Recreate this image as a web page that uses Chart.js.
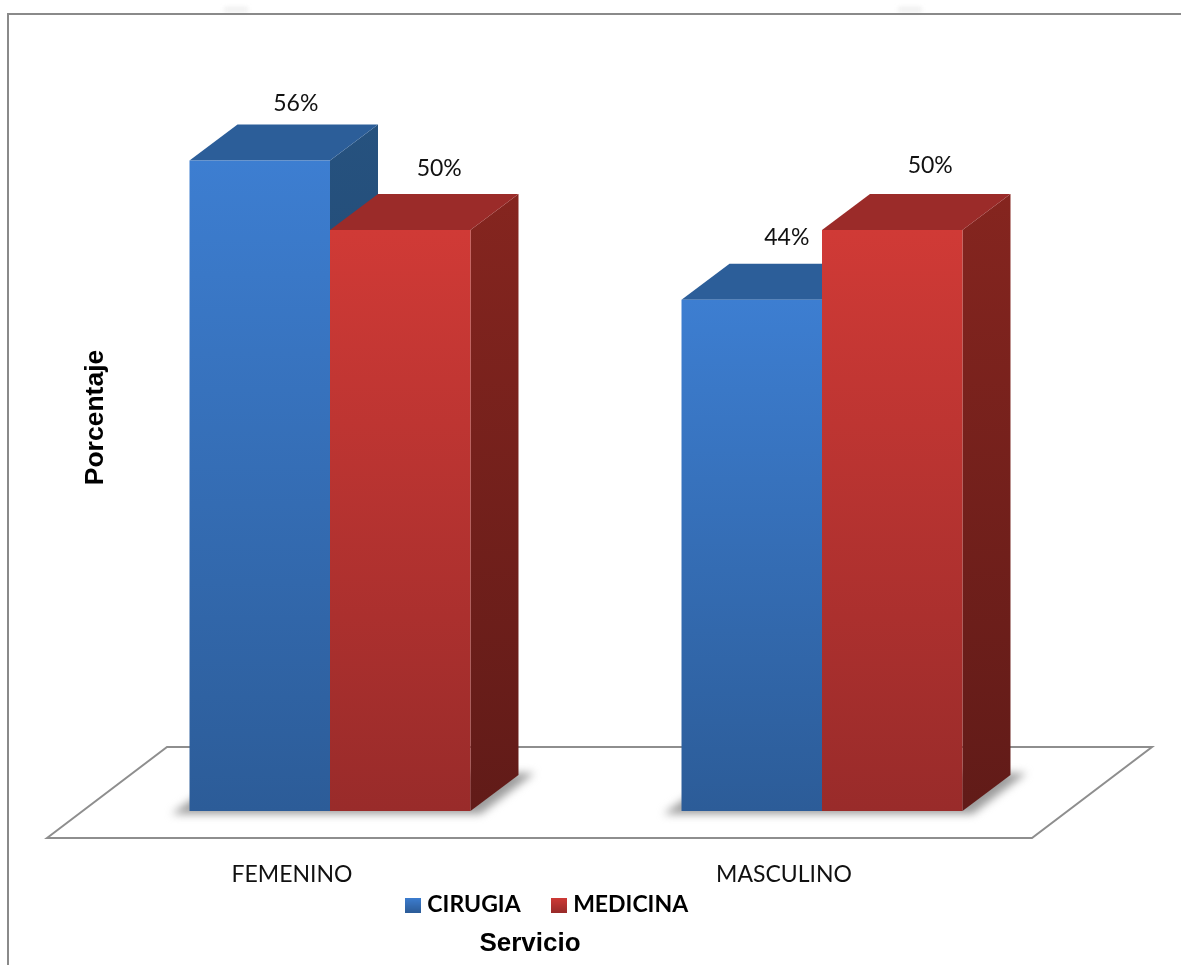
<!DOCTYPE html>
<html><head><meta charset="utf-8">
<style>
html,body{margin:0;padding:0;background:#fff;width:1181px;height:965px;overflow:hidden}
#wrap{position:relative;width:1181px;height:965px}
#frameV{position:absolute;left:7px;top:13px;width:2px;height:952px;background:#8a8a8a}
#frameH{position:absolute;left:7px;top:13px;width:1174px;height:1.5px;background:#8a8a8a}
.smudge{position:absolute;top:7px;width:24px;height:5px;background:#e4e4e4;filter:blur(2px);opacity:.6}
canvas{position:absolute;left:0;top:0}
</style>
<script src="https://cdn.jsdelivr.net/npm/chart.js@4/dist/chart.umd.min.js"></script>
</head><body>
<div id="wrap">
<canvas id="c" width="1181" height="965"></canvas>
<div class="smudge" style="left:224px"></div><div class="smudge" style="left:898px"></div>
<div id="frameV"></div><div id="frameH"></div>
</div>
<script>
const categories = ['FEMENINO', 'MASCULINO'];
const cirugia = [56, 44];
const medicina = [50, 50];
const seriesNames = ['CIRUGIA', 'MEDICINA'];
const axisX = 'Servicio';
const axisY = 'Porcentaje';

const DEPTH_X = 48, DEPTH_Y = 36;
const palette = [
  {front:['#3d7ed1','#2c5c98'], top:'#2c5e99', side:['#26527f','#1d3f66']},
  {front:['#d03a36','#992b2a'], top:'#9b2b29', side:['#85251f','#611b18']}
];
// small per-label nudges for the value captions
const nudge = [[[36,-57],[35,-62]],[[39,-62],[38,-65]]];

function vGrad(c, y0, y1, cols){
  const g = c.createLinearGradient(0,y0,0,y1);
  g.addColorStop(0,cols[0]); g.addColorStop(1,cols[1]);
  return g;
}
function frontFill(i){
  return (ctx)=>{
    const ch = ctx.chart, a = ch.chartArea;
    if(!a || ctx.parsed === undefined || ctx.parsed === null) return palette[i].front[0];
    const v = ctx.dataset.data[ctx.dataIndex];
    return vGrad(ch.ctx, ch.scales.y.getPixelForValue(v), a.bottom, palette[i].front);
  };
}
function legendIcon(i){
  const cv = document.createElement('canvas'); cv.width = 16; cv.height = 15;
  const x = cv.getContext('2d');
  x.fillStyle = vGrad(x,0,15,palette[i].front); x.fillRect(0,0,16,15);
  return cv;
}
const legendIcons = [legendIcon(0), legendIcon(1)];

const scene3d = {
  id:'scene3d',
  afterLayout(chart){
    const L = chart.legend, T = chart.titleBlock, X = chart.scales.x, Y = chart.scales.y;
    X.bottom += 30;
    Y.top += 3;
    if(L){ const h=L.bottom-L.top; L.left-=24; L.right-=24; L.top=858.5; L.bottom=858.5+h; }
    if(T){ const h=T.bottom-T.top; T.left-=43; T.right-=43; T.top=944-h/2; T.bottom=944+h/2; }
  },
  beforeDatasetsDraw(chart){
    const c = chart.ctx, a = chart.chartArea;
    // floor
    c.save();
    c.beginPath();
    c.moveTo(a.left-37,a.bottom+27);
    c.lineTo(a.left+83,a.bottom-64);
    c.lineTo(a.right+84,a.bottom-64);
    c.lineTo(a.right-36,a.bottom+27);
    c.closePath();
    c.fillStyle='#fff'; c.fill();
    c.strokeStyle='#8e8e8e'; c.lineWidth=2; c.lineJoin='miter'; c.stroke();
    c.restore();
    // soft floor shadow under each group
    const m0 = chart.getDatasetMeta(0).data, m1 = chart.getDatasetMeta(1).data;
    m0.forEach((el,k)=>{
      const r = m1[k], l = el.x-el.width/2, rr = r.x+r.width/2, b = el.base;
      c.save();
      c.filter='blur(4px)';
      c.fillStyle='#9c9c9c';
      c.beginPath();
      c.moveTo(l-18,b+3); c.lineTo(rr+10,b+3); c.lineTo(rr+64,b-38); c.lineTo(l+40,b-38);
      c.closePath(); c.fill();
      c.restore();
    });
    // side and top faces, back series first
    [0,1].forEach(i=>{
      chart.getDatasetMeta(i).data.forEach(el=>{
        const l = el.x-el.width/2, r = el.x+el.width/2, t = el.y, b = el.base;
        c.beginPath();
        c.moveTo(r,t); c.lineTo(r+DEPTH_X,t-DEPTH_Y); c.lineTo(r+DEPTH_X,b-DEPTH_Y); c.lineTo(r,b); c.closePath();
        c.fillStyle = vGrad(c,t-DEPTH_Y,b,palette[i].side); c.fill();
        c.beginPath();
        c.moveTo(l,t); c.lineTo(l+DEPTH_X,t-DEPTH_Y); c.lineTo(r+DEPTH_X,t-DEPTH_Y); c.lineTo(r,t); c.closePath();
        c.fillStyle = palette[i].top; c.fill();
      });
    });
  },
  afterDatasetsDraw(chart){
    const c = chart.ctx;
    c.save();
    c.font='23px Lato'; c.fillStyle='#111'; c.textAlign='center'; c.textBaseline='middle';
    [0,1].forEach(i=>{
      chart.getDatasetMeta(i).data.forEach((el,k)=>{
        const v = chart.data.datasets[i].data[k];
        c.fillText(v+'%', el.x+nudge[i][k][0], el.y+nudge[i][k][1]);
      });
    });
    c.restore();
  }
};

new Chart(document.getElementById('c'),{
  type:'bar',
  data:{labels:categories,datasets:[
    {label:seriesNames[0],data:cirugia,backgroundColor:frontFill(0),barPercentage:1,categoryPercentage:0.5711},
    {label:seriesNames[1],data:medicina,backgroundColor:frontFill(1),barPercentage:1,categoryPercentage:0.5711}
  ]},
  plugins:[scene3d],
  options:{
    responsive:false,animation:false,
    layout:{padding:{left:78,right:113,top:21,bottom:0}},
    scales:{
      x:{
        grid:{display:false,drawTicks:false},border:{display:false},
        ticks:{padding:50,labelOffset:-38,color:'#111',font:{family:'Lato',size:23},maxRotation:0},
        afterFit(s){s.height=60;}
      },
      y:{
        min:0,max:68,
        grid:{display:false,drawTicks:false},border:{display:false},
        ticks:{display:false},
        title:{display:true,text:axisY,color:'#000',padding:{top:2,bottom:0},font:{family:'Liberation Sans',weight:'bold',size:26.5}},
        afterFit(s){s.width=6;}
      }
    },
    plugins:{
      tooltip:{enabled:false},
      title:{display:true,text:axisX,position:'bottom',color:'#000',padding:0,font:{family:'Liberation Sans',weight:'bold',size:26,lineHeight:1}},
      legend:{
        position:'bottom',
        labels:{
          color:'#000',padding:35,usePointStyle:true,pointStyleWidth:6,boxHeight:15,
          font:{family:'Lato',weight:'bold',size:23},
          generateLabels(ch){
            const items = Chart.defaults.plugins.legend.labels.generateLabels(ch);
            items.forEach((it,i)=>{it.pointStyle=legendIcons[i];});
            return items;
          }
        }
      }
    }
  }
});
</script>
</body></html>
